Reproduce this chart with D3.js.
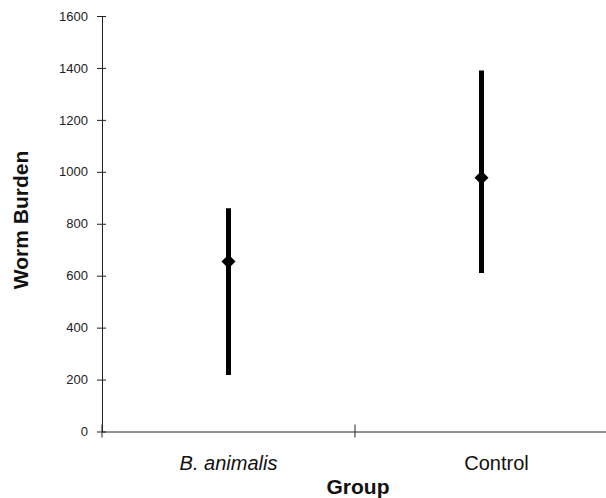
<!DOCTYPE html>
<html><head><meta charset="utf-8">
<script src="https://cdn.jsdelivr.net/npm/d3@7"></script>
<style>body{margin:0;background:#fff}svg{display:block}</style>
</head><body>
<script>
const categories = ["B. animalis", "Control"];
const means = [655, 977];
const lows = [218, 610];
const highs = [860, 1390];
const yTicks = [0, 200, 400, 600, 800, 1000, 1200, 1400, 1600];
const labelShift = [0, 15];

const W = 606, H = 498;
const FONT = "Liberation Sans, Arial, sans-serif";
const svg = d3.select("body").append("svg").attr("width", W).attr("height", H);
const x = d3.scaleBand().domain(categories).range([102, 608]);
const y = d3.scaleLinear().domain([0, 1600]).range([431.5, 16]);

// y axis
const ya = svg.append("g").attr("transform", "translate(102,0)")
  .call(d3.axisLeft(y).tickValues(yTicks).tickFormat(d3.format("d")).tickSize(4).tickSizeOuter(0).tickPadding(10));
ya.selectAll(".tick line").attr("x1", -5).attr("x2", 4).attr("stroke", "#222");
ya.selectAll("text").attr("font-family", FONT).attr("font-size", 13).attr("fill", "#222");
ya.select(".domain").attr("stroke", "#222");

// x axis
const xa = svg.append("g").attr("transform", `translate(0,${y(0)})`)
  .call(d3.axisBottom(x).tickValues([]).tickSizeOuter(0));
xa.select(".domain").attr("stroke", "#222");
const bounds = categories.map(c => x(c));
xa.selectAll(".bt").data(bounds).enter().append("line")
  .attr("x1", d => d).attr("x2", d => d).attr("y1", -7).attr("y2", 6).attr("stroke", "#222");
xa.selectAll(".cl").data(categories).enter().append("text")
  .attr("x", (d, i) => x(d) + x.bandwidth() / 2 + labelShift[i]).attr("y", 38)
  .attr("text-anchor", "middle")
  .attr("font-family", FONT).attr("font-size", 20)
  .attr("font-style", (d, i) => i === 0 ? "italic" : "normal")
  .attr("fill", "#111").text(d => d);

// titles
svg.append("text").attr("x", 358).attr("y", 494).attr("text-anchor", "middle")
  .attr("font-family", FONT).attr("font-size", 21).attr("font-weight", "bold")
  .attr("fill", "#111").text("Group");
svg.append("text").attr("transform", "translate(28,220) rotate(-90)").attr("text-anchor", "middle")
  .attr("font-family", FONT).attr("font-size", 21).attr("font-weight", "bold")
  .attr("fill", "#111").text("Worm Burden");

// error bars
const cx = c => x(c) + x.bandwidth() / 2;
svg.selectAll(".eb").data(categories).enter().append("line")
  .attr("x1", cx).attr("x2", cx)
  .attr("y1", (d, i) => y(highs[i])).attr("y2", (d, i) => y(lows[i]))
  .attr("stroke", "#000").attr("stroke-width", 5);
svg.selectAll(".mk").data(categories).enter().append("path")
  .attr("transform", (d, i) => `translate(${cx(d)},${y(means[i])})`)
  .attr("d", "M0,-7L7,0L0,7L-7,0Z").attr("fill", "#000");
</script>
</body></html>
